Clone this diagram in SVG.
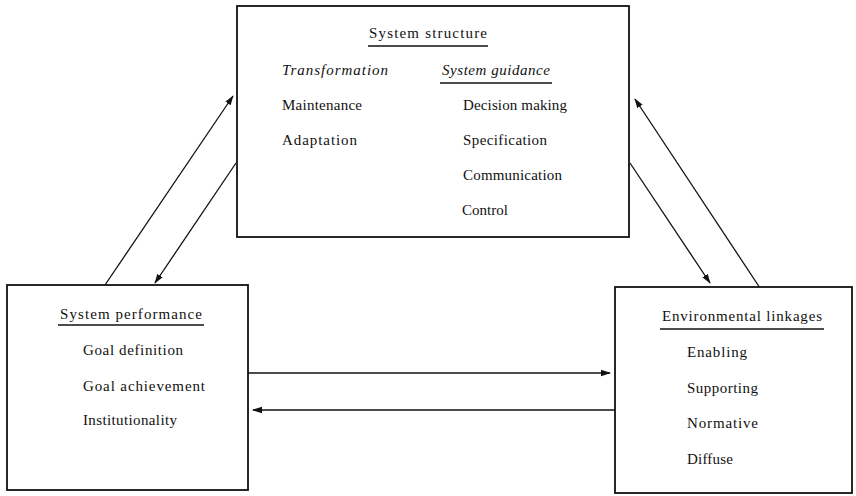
<svg xmlns="http://www.w3.org/2000/svg" width="856" height="496" viewBox="0 0 856 496">
<style>
.box{fill:#fff;stroke:#111;stroke-width:1.8}
.t{font-family:"Liberation Serif","Times New Roman",serif;font-size:15px;fill:#111}
.i{font-style:italic}
.u{stroke:#111;stroke-width:1.3}
.c{stroke:#111;stroke-width:1.3;fill:none;marker-end:url(#ah)}
</style>
<defs>
<marker id="ah" markerWidth="10" markerHeight="8" refX="9" refY="4" orient="auto" markerUnits="userSpaceOnUse">
<path d="M0,0.8 L10,4 L0,7.2 Z" fill="#111"/>
</marker>
</defs>
<rect width="856" height="496" fill="#fff"/>
<g id="connectors">
<line class="c" x1="105" y1="285" x2="233" y2="96"/>
<line class="c" x1="236" y1="163" x2="155" y2="283"/>
<line class="c" x1="630" y1="163" x2="710" y2="283"/>
<line class="c" x1="760" y1="288" x2="635" y2="99"/>
<line class="c" x1="248" y1="373" x2="610" y2="373"/>
<line class="c" x1="615" y1="410" x2="253" y2="410"/>
</g>
<g id="system-structure">
<rect class="box" x="237" y="6" width="392" height="231"/>
<text class="t" x="369" y="38" textLength="118">System structure</text>
<line class="u" x1="368" y1="46" x2="488" y2="46"/>
<text class="t i" x="282" y="75" textLength="106">Transformation</text>
<text class="t i" x="442" y="75" textLength="108">System guidance</text>
<line class="u" x1="440" y1="83" x2="552" y2="83"/>
<text class="t" x="282" y="110" textLength="80">Maintenance</text>
<text class="t" x="282" y="145" textLength="75">Adaptation</text>
<text class="t" x="463" y="110" textLength="104">Decision making</text>
<text class="t" x="463" y="145" textLength="84">Specification</text>
<text class="t" x="463" y="180" textLength="99">Communication</text>
<text class="t" x="462" y="215">Control</text>
</g>
<g id="system-performance">
<rect class="box" x="7" y="285" width="241" height="205"/>
<text class="t" x="60" y="319" textLength="142">System performance</text>
<line class="u" x1="58" y1="325" x2="204" y2="325"/>
<text class="t" x="83" y="355" textLength="100">Goal definition</text>
<text class="t" x="83" y="391" textLength="122">Goal achievement</text>
<text class="t" x="83" y="425" textLength="94">Institutionality</text>
</g>
<g id="environmental-linkages">
<rect class="box" x="615" y="287" width="237" height="206"/>
<text class="t" x="662" y="321" textLength="160">Environmental linkages</text>
<line class="u" x1="660" y1="329" x2="824" y2="329"/>
<text class="t" x="687" y="357" textLength="60">Enabling</text>
<text class="t" x="687" y="393" textLength="71">Supporting</text>
<text class="t" x="687" y="428" textLength="71">Normative</text>
<text class="t" x="687" y="464" textLength="46">Diffuse</text>
</g>
</svg>
